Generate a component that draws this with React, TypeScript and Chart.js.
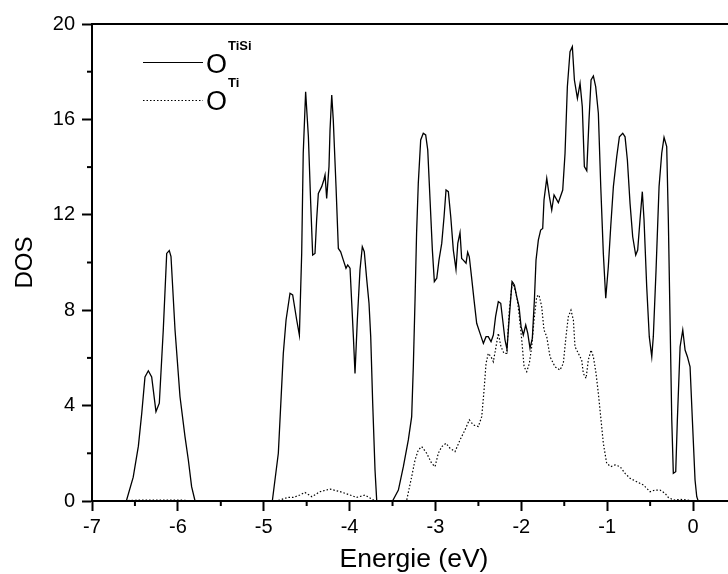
import React, { useEffect, useRef } from "react";
import { Chart, registerables } from "chart.js";

Chart.register(...registerables);

// O^TiSi (solid line)
const tisiEnergy = [
  -6.65, -6.6, -6.52, -6.46, -6.42, -6.383, -6.344, -6.305, -6.255, -6.216, -6.17, -6.13, -6.1, -6.08, -6.033, -5.975, -5.917, -5.878, -5.84, -5.8,
  -4.9, -4.83, -4.772, -4.74, -4.694, -4.663, -4.616, -4.585, -4.558, -4.54, -4.512, -4.48, -4.453, -4.43, -4.403, -4.384, -4.364, -4.325, -4.3, -4.286,
  -4.267, -4.24, -4.228, -4.208, -4.19, -4.158, -4.131, -4.104, -4.073, -4.042, -4.022, -3.995, -3.975, -3.956, -3.937, -3.91, -3.879, -3.852, -3.829, -3.8,
  -3.774, -3.754, -3.731, -3.704, -3.684,
  -3.5, -3.432, -3.374, -3.316, -3.277, -3.258, -3.238, -3.22, -3.2, -3.172, -3.142, -3.114, -3.09, -3.063, -3.036, -3.013, -2.985, -2.959, -2.927, -2.9,
  -2.877, -2.85, -2.822, -2.792, -2.761, -2.74, -2.714, -2.695, -2.676, -2.644, -2.625, -2.606, -2.58, -2.551, -2.52, -2.481, -2.442, -2.411, -2.385, -2.353,
  -2.326, -2.3, -2.268, -2.24, -2.217, -2.19, -2.167, -2.14, -2.108, -2.081, -2.054, -2.027, -2.003, -1.977, -1.949, -1.925, -1.899, -1.872, -1.848, -1.829,
  -1.802, -1.775, -1.751, -1.736, -1.704, -1.673, -1.646, -1.619, -1.569, -1.518, -1.491, -1.464, -1.433, -1.406, -1.382, -1.347, -1.316, -1.29, -1.266, -1.238,
  -1.212, -1.188, -1.161, -1.134, -1.103, -1.075, -1.045, -1.017, -0.987, -0.959, -0.928, -0.889, -0.858, -0.819, -0.792, -0.765, -0.734, -0.703, -0.668, -0.645,
  -0.618, -0.591, -0.571, -0.54, -0.51, -0.481, -0.463, -0.431, -0.396, -0.365, -0.338, -0.307, -0.288, -0.268, -0.248, -0.23, -0.202, -0.183, -0.151, -0.12,
  -0.093, -0.066, -0.035, -0.008, 0.023, 0.043, 0.06, 0.5,
];
const tisiDos = [
  0, 0, 1.0, 2.3, 3.7, 5.2, 5.46, 5.2, 3.75, 4.1, 7.17, 10.38, 10.5, 10.25, 7.17, 4.37, 2.7, 1.72, 0.6, 0,
  0, 2.0, 6.19, 7.59, 8.71, 8.64, 7.59, 6.96, 10.38, 14.58, 17.16, 15.27, 12.48, 10.31, 10.38, 11.78, 12.9, 13.18, 13.46, 13.67,
  12.69, 14.02, 15.56, 17.02, 15.97, 13.18, 10.59, 10.45, 10.1, 9.76, 9.9, 9.76, 8.29, 6.89, 5.35, 7.59, 9.69, 10.66, 10.45, 9.27,
  8.29, 6.89, 4.1, 1.3, 0,
  0, 0.46, 1.44, 2.56, 3.54, 5.63, 8.43, 11.22, 13.32, 15.14, 15.42, 15.35, 14.72, 12.62, 10.52, 9.2, 9.34, 10.1, 10.8, 11.92,
  13.04, 12.97, 11.92, 10.52, 9.71, 10.8, 11.25, 10.17, 10.1, 9.97, 10.43, 10.24, 9.4, 8.43, 7.45, 7.03, 6.61, 6.89, 6.89, 6.68,
  6.96, 7.73, 8.36, 8.29, 7.59, 6.75, 6.36, 7.73, 9.2, 9.06, 8.57, 8.15, 7.31, 6.96, 7.38, 7.03, 6.4, 6.82, 8.43, 10.1,
  10.94, 11.36, 11.43, 12.62, 13.53, 12.76, 12.2, 12.83, 12.51, 13.04, 14.58, 17.37, 18.84, 19.05, 17.65, 16.88, 17.51, 16.53, 14.02, 13.85,
  15.97, 17.65, 17.82, 17.37, 16.26, 13.18, 10.38, 8.5, 9.82, 11.5, 13.18, 14.44, 15.27, 15.42, 15.27, 14.3, 12.48, 11.08, 10.31, 10.52,
  11.78, 12.97, 11.78, 8.99, 6.89, 6.05, 6.89, 9.69, 13.18, 14.58, 15.25, 14.86, 11.78, 7.59, 3.4, 1.16, 1.23, 3.4, 6.47, 7.17,
  6.33, 6.05, 5.63, 3.4, 0.88, 0.18, 0, 0,
];

// O^Ti (dotted line)
const tiEnergy = [
  -6.62, -6.55, -6.3, -6.1, -5.9, -5.85,
  -4.85, -4.79, -4.72, -4.655, -4.58, -4.52, -4.44, -4.345, -4.228, -4.11, -3.995, -3.917, -3.82, -3.75, -3.7,
  -3.36, -3.335, -3.277, -3.238, -3.2, -3.16, -3.102, -3.044, -3.005, -2.967, -2.927, -2.877, -2.83, -2.772, -2.714, -2.656, -2.606, -2.559, -2.501, -2.461,
  -2.434, -2.411, -2.385, -2.353, -2.326, -2.295, -2.268, -2.237, -2.202, -2.17, -2.14, -2.105, -2.073, -2.046, -2.023, -1.995, -1.968, -1.937, -1.907, -1.879,
  -1.852, -1.821, -1.794, -1.763, -1.736, -1.704, -1.666, -1.608, -1.55, -1.511, -1.48, -1.453, -1.422, -1.394, -1.375, -1.336, -1.297, -1.278, -1.246, -1.22,
  -1.188, -1.161, -1.13, -1.103, -1.072, -1.045, -1.006, -0.959, -0.909, -0.85, -0.792, -0.734, -0.656, -0.578, -0.501, -0.443, -0.385, -0.326, -0.288, -0.23,
  -0.15, -0.074, 0.0,
];
const tiDos = [
  0, 0.03, 0.04, 0.04, 0.03, 0,
  0, 0.07, 0.15, 0.15, 0.25, 0.36, 0.18, 0.39, 0.5, 0.39, 0.25, 0.15, 0.25, 0.1, 0,
  0, 0.04, 1.02, 1.72, 2.14, 2.28, 2.0, 1.58, 1.44, 2.0, 2.28, 2.42, 2.21, 2.07, 2.56, 2.98, 3.4, 3.19, 3.12, 3.54,
  4.65, 5.77, 6.19, 6.05, 5.84, 6.47, 7.03, 6.47, 6.19, 6.19, 8.0, 9.2, 8.85, 8.43, 7.73, 6.75, 5.63, 5.42, 5.77, 6.47,
  7.59, 8.57, 8.64, 8.15, 7.17, 6.89, 6.05, 5.63, 5.49, 5.77, 6.89, 7.73, 8.0, 7.59, 6.47, 6.19, 5.91, 5.35, 5.14, 5.91,
  6.33, 6.05, 5.35, 4.51, 3.4, 2.42, 1.58, 1.44, 1.51, 1.44, 1.16, 0.95, 0.81, 0.67, 0.39, 0.46, 0.46, 0.32, 0.15, 0.04,
  0.07, 0.05, 0,
];

const xTickLabels = ["-7", "-6", "-5", "-4", "-3", "-2", "-1", "0"];
const yTickLabels = ["0", "4", "8", "12", "16", "20"];

const FONT = "'Liberation Sans', Arial, Helvetica, sans-serif";

const axesPlugin = {
  id: "extraAxes",
  afterDraw(chart: any) {
    const { ctx, chartArea } = chart;
    const xs = chart.scales.x;
    const ys = chart.scales.y;
    ctx.save();
    ctx.strokeStyle = "#000";
    ctx.lineWidth = 2;
    // top frame
    ctx.beginPath();
    ctx.moveTo(chartArea.left - 1, chartArea.top);
    ctx.lineTo(chartArea.right, chartArea.top);
    ctx.stroke();
    // minor ticks
    for (let v = -6.5; v <= 0.5; v += 1) {
      const px = xs.getPixelForValue(v);
      ctx.beginPath();
      ctx.moveTo(px, chartArea.bottom);
      ctx.lineTo(px, chartArea.bottom + 5);
      ctx.stroke();
    }
    for (let v = 2; v < 20; v += 4) {
      const py = ys.getPixelForValue(v);
      ctx.beginPath();
      ctx.moveTo(chartArea.left, py);
      ctx.lineTo(chartArea.left - 5, py);
      ctx.stroke();
    }
    // legend
    ctx.lineWidth = 1.2;
    ctx.beginPath();
    ctx.moveTo(143, 62.5);
    ctx.lineTo(203, 62.5);
    ctx.stroke();
    ctx.setLineDash([1.5, 2]);
    ctx.beginPath();
    ctx.moveTo(143, 100.5);
    ctx.lineTo(203, 100.5);
    ctx.stroke();
    ctx.setLineDash([]);
    ctx.fillStyle = "#000";
    ctx.textBaseline = "alphabetic";
    ctx.textAlign = "left";
    ctx.font = `27px ${FONT}`;
    ctx.fillText("O", 206, 73);
    ctx.fillText("O", 206, 110);
    ctx.font = `bold 13px ${FONT}`;
    ctx.fillText("TiSi", 228, 50);
    ctx.fillText("Ti", 228, 87);
    ctx.restore();
  },
};

export default function App() {
  const ref = useRef<HTMLCanvasElement | null>(null);
  useEffect(() => {
    const tisiData = tisiEnergy.map((x, i) => ({ x, y: tisiDos[i] }));
    const tiData = tiEnergy.map((x, i) => ({ x, y: tiDos[i] }));
    const chart = new Chart(ref.current as HTMLCanvasElement, {
      type: "line",
      data: {
        datasets: [
          {
            label: "O^TiSi",
            data: tisiData,
            borderColor: "#000",
            borderWidth: 1.3,
            pointRadius: 0,
            fill: false,
            tension: 0,
          },
          {
            label: "O^Ti",
            data: tiData,
            borderColor: "#000",
            borderWidth: 1.2,
            borderDash: [1.5, 2],
            pointRadius: 0,
            fill: false,
            tension: 0,
          },
        ],
      },
      options: {
        animation: false,
        responsive: false,
        devicePixelRatio: 1,
        layout: { padding: { top: 24, right: 24, left: 0, bottom: 0 } },
        plugins: { legend: { display: false }, tooltip: { enabled: false } },
        scales: {
          x: {
            type: "linear",
            min: -7,
            max: 0.5,
            afterFit: (s: any) => {
              s.height = 73;
            },
            ticks: {
              stepSize: 1,
              includeBounds: false,
              autoSkip: false,
              maxRotation: 0,
              color: "#000",
              padding: 4,
              font: { family: FONT, size: 20 },
              callback: (v: any) => {
                const i = Math.round(Number(v) + 7);
                return Number.isInteger(Number(v)) && xTickLabels[i] !== undefined ? xTickLabels[i] : "";
              },
            },
            grid: { drawOnChartArea: false, tickLength: 10, tickWidth: 2, tickColor: "#000" },
            border: { color: "#000", width: 2 },
            title: {
              display: true,
              text: "Energie (eV)",
              color: "#000",
              font: { family: FONT, size: 26.5, lineHeight: 1 },
              padding: { top: 0, bottom: 1 },
            },
          },
          y: {
            type: "linear",
            min: 0,
            max: 20,
            afterFit: (s: any) => {
              s.width = 92;
            },
            ticks: {
              stepSize: 4,
              color: "#000",
              padding: 7,
              font: { family: FONT, size: 20 },
              callback: (v: any) => {
                const i = Math.round(Number(v) / 4);
                return yTickLabels[i] !== undefined ? yTickLabels[i] : "";
              },
            },
            grid: { drawOnChartArea: false, tickLength: 10, tickWidth: 2, tickColor: "#000" },
            border: { color: "#000", width: 2 },
            title: {
              display: true,
              text: "DOS",
              color: "#000",
              font: { family: FONT, size: 24, lineHeight: 1 },
              padding: { top: 13, bottom: 0 },
            },
          },
        },
      },
      plugins: [axesPlugin],
    });
    return () => chart.destroy();
  }, []);
  return (
    <div
      style={{
        position: "fixed",
        left: 0,
        top: 0,
        width: 728,
        height: 574,
        overflow: "hidden",
        background: "#fff",
      }}
    >
      <canvas ref={ref} width={760} height={574} style={{ display: "block" }} />
    </div>
  );
}
